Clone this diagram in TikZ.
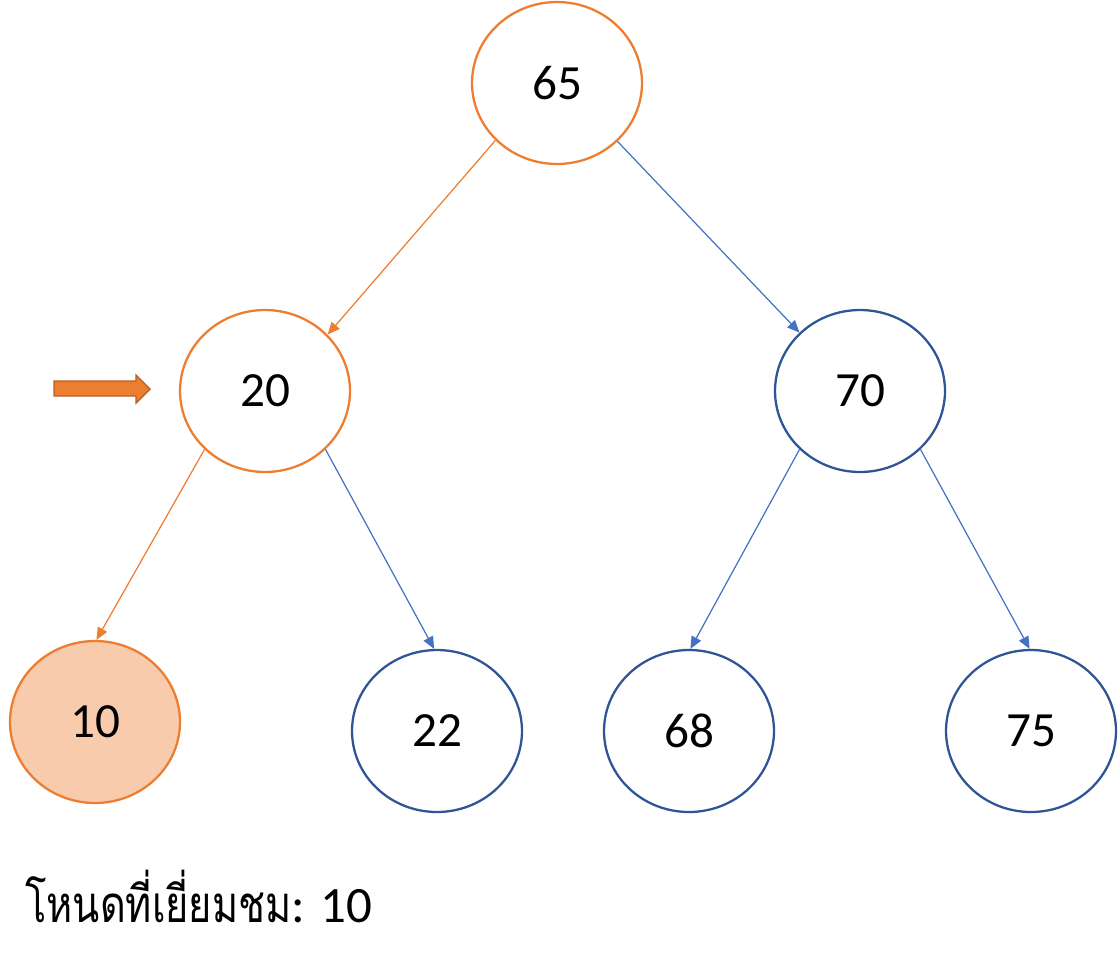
\documentclass[tikz,border=0pt]{standalone}
\usepackage{fontspec}
\setmainfont{Carlito}
\newfontfamily\thaifont[Script=Thai,FakeStretch=0.78]{Loma}
\usetikzlibrary{shapes.geometric,arrows.meta}
\definecolor{orng}{HTML}{ED7D31}
\definecolor{orngdark}{HTML}{B9601F}
\definecolor{peach}{HTML}{F8CBAD}
\definecolor{navy}{HTML}{2F5597}
\definecolor{lblue}{HTML}{4472C4}
\tikzset{
  treenode/.style={ellipse, draw=navy, line width=1.3pt, minimum width=3.4cm, minimum height=3.24cm, inner sep=0pt, font=\fontsize{28}{30}\selectfont, text=black},
  visited/.style={treenode, draw=orng},
  current/.style={treenode, draw=orng, fill=peach},
  edgeo/.style={draw=orng, line width=0.7pt, -{Triangle[length=7pt,width=6pt]}},
  edgeb/.style={draw=lblue, line width=0.7pt, -{Triangle[length=7pt,width=6pt]}},
}
\begin{document}
\begin{tikzpicture}[x=0.02cm,y=-0.02cm]
\useasboundingbox (0,0) rectangle (1118,960);
\node[visited] (n65) at (557,83) {65};
\node[visited] (n20) at (265,391) {20};
\node[treenode] (n70) at (860,391) {70};
\node[current] (n10) at (95,722) {10};
\node[treenode] (n22) at (437,731) {22};
\node[treenode] (n68) at (689,731) {68};
\node[treenode] (n75) at (1031,731) {75};
\draw[edgeo] (n65.223) -- (n20.42);
\draw[edgeb] (n65.316) -- (n70.136);
\draw[edgeo] (n20.224) -- (n10.89);
\draw[edgeb] (n20.316) -- (n22.92);
\draw[edgeb] (n70.224) -- (n68.89);
\draw[edgeb] (n70.316) -- (n75.91);
\draw[fill=orng, draw=orngdark, line width=0.8pt, line join=miter]
  (54,381) -- (136,381) -- (136,375) -- (150,389) -- (136,403) -- (136,396) -- (54,396) -- cycle;
\node[anchor=base west, inner sep=0pt, font=\fontsize{29}{32}\selectfont] (lbl) at (25,922) {{\thaifont โหนดที่เยี่ยมชม}: 10};
\end{tikzpicture}
\end{document}
